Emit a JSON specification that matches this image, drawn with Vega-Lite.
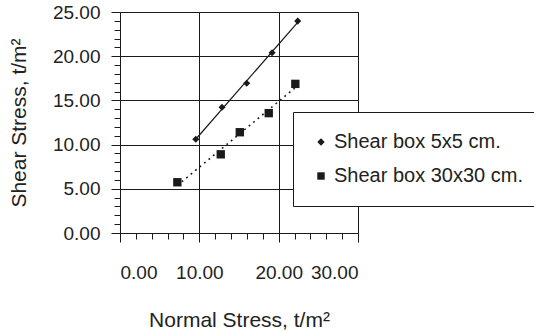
{
  "$schema": "https://vega.github.io/schema/vega-lite/v6.json",
  "width": 238,
  "height": 221,
  "autosize": {"type": "none"},
  "padding": {"left": 120, "top": 12, "right": 176, "bottom": 99},
  "background": "white",
  "config": {
    "font": "Liberation Sans",
    "view": {"stroke": "#1a1a1a", "strokeWidth": 1},
    "axis": {"labelFont": "Liberation Sans", "titleFont": "Liberation Sans", "labelColor": "#222", "titleColor": "#222", "titleFontWeight": "normal"}
  },
  "data": {
    "values": [
      {"series": "Shear box 5x5 cm.", "normal": 9.55, "shear": 10.6},
      {"series": "Shear box 5x5 cm.", "normal": 12.86, "shear": 14.23},
      {"series": "Shear box 5x5 cm.", "normal": 15.97, "shear": 16.95},
      {"series": "Shear box 5x5 cm.", "normal": 19.17, "shear": 20.4},
      {"series": "Shear box 5x5 cm.", "normal": 22.4, "shear": 23.97},
      {"series": "Shear box 30x30 cm.", "normal": 7.23, "shear": 5.74},
      {"series": "Shear box 30x30 cm.", "normal": 12.7, "shear": 8.9},
      {"series": "Shear box 30x30 cm.", "normal": 15.1, "shear": 11.4},
      {"series": "Shear box 30x30 cm.", "normal": 18.75, "shear": 13.56},
      {"series": "Shear box 30x30 cm.", "normal": 22.1, "shear": 16.87}
    ]
  },
  "layer": [
    {
      "mark": {"type": "point", "filled": true, "color": "#1a1a1a", "opacity": 1},
      "encoding": {
        "x": {"field": "normal", "type": "quantitative", "scale": {"domain": [0, 30], "nice": false},
          "axis": {"orient": "bottom", "values": [0, 10, 20, 30], "format": ".2f", "title": "Normal Stress, t/m²",
            "grid": true, "gridColor": "#1a1a1a", "gridOpacity": 1, "domainColor": "#1a1a1a", "tickColor": "#1a1a1a",
            "tickSize": 9, "labelPadding": 21, "labelFontSize": 19, "titleFontSize": 21, "titlePadding": 27}},
        "y": {"field": "shear", "type": "quantitative", "scale": {"domain": [0, 25], "nice": false},
          "axis": {"orient": "left", "values": [0, 5, 10, 15, 20, 25], "format": ".2f", "title": "Shear Stress, t/m²",
            "grid": true, "gridColor": "#1a1a1a", "gridOpacity": 1, "domainColor": "#1a1a1a", "tickColor": "#1a1a1a",
            "tickSize": 9, "labelPadding": 11, "labelFontSize": 19, "titleFontSize": 21, "titlePadding": 23}},
        "shape": {"field": "series", "type": "nominal",
          "scale": {"domain": ["Shear box 5x5 cm.", "Shear box 30x30 cm."], "range": ["diamond", "square"]},
          "legend": {"title": null, "orient": "none", "legendX": 173, "legendY": 100, "padding": 20,
            "strokeColor": "#1a1a1a", "fillColor": "white", "labelFontSize": 20, "labelColor": "#222",
            "labelFont": "Liberation Sans", "symbolSize": 55, "symbolFillColor": "#1a1a1a", "symbolStrokeColor": "#1a1a1a",
            "symbolOffset": -2, "rowPadding": 14, "labelOffset": 3, "labelLimit": 600,
            "labelExpr": "datum.label + '          '"}},
        "size": {"condition": {"test": "datum.series === 'Shear box 5x5 cm.'", "value": 50}, "value": 70}
      }
    },
    {
      "transform": [
        {"filter": "datum.series === 'Shear box 5x5 cm.'"},
        {"regression": "shear", "on": "normal"}
      ],
      "mark": {"type": "line", "color": "#1a1a1a", "strokeWidth": 1.2},
      "encoding": {
        "x": {"field": "normal", "type": "quantitative", "scale": {"domain": [0, 30], "nice": false},
          "axis": {"orient": "bottom", "values": [0, 2, 4, 6, 8, 12, 14, 16, 18, 22, 24, 26, 28], "labels": false, "title": null,
            "grid": false, "domain": false, "tickColor": "#1a1a1a", "tickSize": 6}},
        "y": {"field": "shear", "type": "quantitative", "scale": {"domain": [0, 25], "nice": false},
          "axis": {"orient": "left", "values": [1, 2, 3, 4, 6, 7, 8, 9, 11, 12, 13, 14, 16, 17, 18, 19, 21, 22, 23, 24], "labels": false, "title": null,
            "grid": false, "domain": false, "tickColor": "#1a1a1a", "tickSize": 6}}
      }
    },
    {
      "transform": [
        {"filter": "datum.series === 'Shear box 30x30 cm.'"},
        {"regression": "shear", "on": "normal"}
      ],
      "mark": {"type": "line", "color": "#1a1a1a", "strokeWidth": 1.6, "strokeDash": [1.8, 4]},
      "encoding": {
        "x": {"field": "normal", "type": "quantitative", "scale": {"domain": [0, 30], "nice": false}, "axis": null},
        "y": {"field": "shear", "type": "quantitative", "scale": {"domain": [0, 25], "nice": false}, "axis": null}
      }
    }
  ],
  "resolve": {"axis": {"x": "independent", "y": "independent"}}
}
